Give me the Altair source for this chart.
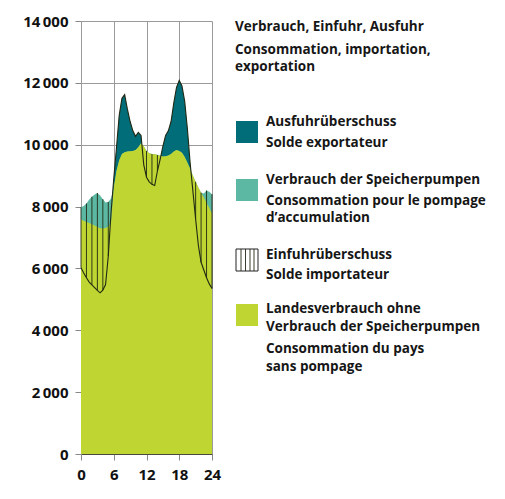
import altair as alt
import pandas as pd

# hours of the day (half-hour steps)
hours = [0, 0.5, 1, 1.5, 2, 2.5, 3, 3.5, 4, 4.5, 5, 5.5, 6, 6.5, 7, 7.5, 8, 8.5,
         9, 9.5, 10, 10.5, 11, 11.5, 12, 12.5, 13, 13.5, 14, 14.5, 15, 15.5, 16,
         16.5, 17, 17.5, 18, 18.5, 19, 19.5, 20, 20.5, 21, 21.5, 22, 22.5, 23,
         23.5, 24]

# domestic production (MW)
production = [6020, 5850, 5700, 5560, 5470, 5380, 5290, 5210, 5300, 5480, 6400,
              7800, 8900, 9900, 10950, 11500, 11620, 11150, 10750, 10450, 10270,
              10400, 10300, 9350, 8950, 8800, 8720, 8680, 9150, 9530, 9950, 10300,
              10450, 10750, 11350, 11850, 12080, 11900, 11400, 10500, 9400, 8500,
              7600, 6750, 6200, 5950, 5700, 5500, 5350]

# national consumption without storage pumps (MW)
landesverbrauch = [7580, 7540, 7500, 7470, 7430, 7390, 7340, 7300, 7290, 7310,
                   7350, 7480, 8600, 9150, 9500, 9700, 9760, 9780, 9790, 9800,
                   9830, 9920, 10050, 9950, 9800, 9720, 9700, 9690, 9670, 9640,
                   9620, 9630, 9650, 9700, 9780, 9830, 9800, 9740, 9600, 9420,
                   9220, 9000, 8800, 8620, 8450, 8290, 8120, 7950, 7780]

# consumption of storage pumps (MW)
pumpen = [400, 480, 600, 760, 890, 1000, 1100, 1060, 950, 820, 800, 780, 0, 0,
          0, 0, 0, 0, 0, 0, 0, 0, 0, 0, 0, 0, 0, 0, 0, 0, 0, 0, 0, 0, 0, 0, 0,
          0, 0, 0, 0, 0, 0, 0, 0, 130, 400, 530, 620]

y_ticks = [0, 2000, 4000, 6000, 8000, 10000, 12000, 14000]
x_ticks = [0, 6, 12, 18, 24]

title_lines = ["Verbrauch, Einfuhr, Ausfuhr", "Consommation, importation,", "exportation"]
legend_lines = [
    ["Ausfuhrüberschuss", "Solde exportateur"],
    ["Verbrauch der Speicherpumpen", "Consommation pour le pompage", "d\u2019accumulation"],
    ["Einfuhrüberschuss", "Solde importateur"],
    ["Landesverbrauch ohne", "Verbrauch der Speicherpumpen", "Consommation du pays", "sans pompage"],
]

C_GREEN = "#bfd531"
C_LTEAL = "#5db8a3"
C_DTEAL = "#006d79"
C_LINE = "#1f2914"
FONT = "Open Sans"

df = pd.DataFrame({"h": hours, "G": production, "L": landesverbrauch, "P": pumpen})
df["C"] = df["L"] + df["P"]

W, H = 131, 433

xs = alt.Scale(domain=[0, 24], nice=False, zero=False)
ys = alt.Scale(domain=[0, 14000], nice=False)

x_axis = alt.Axis(values=x_ticks, tickCount=20, title=None, labelFont=FONT,
                  labelFontWeight="bold", labelFontSize=15, labelColor="#111",
                  tickColor="#888", tickSize=6, domainColor="#4a4a3a", grid=True,
                  gridColor="#9a9a9a", gridWidth=1, labelPadding=7,
                  labelOverlap=False, labelFlush=False, labelBound=False)
y_axis = alt.Axis(values=y_ticks, tickCount=20, title=None, labelFont=FONT,
                  labelFontWeight="bold", labelFontSize=15, labelColor="#111",
                  tickColor="#888", tickSize=6, domainColor="#9a9a9a", grid=True,
                  gridColor="#9a9a9a", gridWidth=1, labelPadding=7,
                  labelOverlap=False, labelFlush=False,
                  labelExpr="replace(format(datum.value, ','), ',', '\u2009')")

base = alt.Chart(df)

prod_area = base.mark_area(color=C_DTEAL, opacity=1).encode(
    x=alt.X("h:Q", scale=xs, axis=x_axis),
    y=alt.Y("G:Q", scale=ys, axis=y_axis),
    y2=alt.datum(0),
)
cons_area = base.mark_area(color=C_LTEAL, opacity=1).encode(
    x=alt.X("h:Q", scale=xs), y=alt.Y("C:Q", scale=ys), y2=alt.datum(0))
land_area = base.mark_area(color=C_GREEN, opacity=1).encode(
    x=alt.X("h:Q", scale=xs), y=alt.Y("L:Q", scale=ys), y2=alt.datum(0))
hatch = base.transform_filter("datum.G < datum.C && datum.h % 1 == 0").mark_rule(
    color=C_LINE, strokeWidth=0.9).encode(
    x=alt.X("h:Q", scale=xs), y=alt.Y("G:Q", scale=ys), y2="C:Q")
prod_line = base.mark_line(color=C_LINE, strokeWidth=1.1).encode(
    x=alt.X("h:Q", scale=xs), y=alt.Y("G:Q", scale=ys))

one = alt.Data(values=[{}])


def txt(s, x, y):
    return alt.Chart(one).mark_text(
        text=s, align="left", baseline="middle", font=FONT, fontSize=13.5,
        fontWeight="bold", color="#161616").encode(x=alt.value(x), y=alt.value(y))


def swatch(color, x, y, stroke=None):
    kw = dict(color=color)
    if stroke:
        kw = dict(fill=color, stroke=stroke, strokeWidth=1)
    return alt.Chart(one).mark_rect(**kw).encode(
        x=alt.value(x), x2=alt.value(x + 22), y=alt.value(y), y2=alt.value(y + 22))


def vline(x, y1, y2):
    return alt.Chart(one).mark_rule(color=C_LINE, strokeWidth=0.9).encode(
        x=alt.value(x), y=alt.value(y1), y2=alt.value(y2))


TX = 154   # title x (view coords)
LX = 185   # legend text x
SX = 155   # swatch x

layers = [prod_area, cons_area, land_area, hatch, prod_line,
          txt(title_lines[0], TX, 6),
          txt(title_lines[1], TX, 29),
          txt(title_lines[2], TX, 46),
          swatch(C_DTEAL, SX, 100),
          txt(legend_lines[0][0], LX, 101),
          txt(legend_lines[0][1], LX, 122),
          swatch(C_LTEAL, SX, 158),
          txt(legend_lines[1][0], LX, 159),
          txt(legend_lines[1][1], LX, 180),
          txt(legend_lines[1][2], LX, 197),
          swatch("#ffffff", SX, 228, stroke="#222"),
          vline(SX + 5, 228, 250), vline(SX + 9.5, 228, 250),
          vline(SX + 14, 228, 250), vline(SX + 18, 228, 250),
          txt(legend_lines[2][0], LX, 234),
          txt(legend_lines[2][1], LX, 254),
          swatch(C_GREEN, SX, 283),
          txt(legend_lines[3][0], LX, 288),
          txt(legend_lines[3][1], LX, 306),
          txt(legend_lines[3][2], LX, 328),
          txt(legend_lines[3][3], LX, 346),
          ]

chart = alt.layer(*layers).properties(
    width=W, height=H,
    padding={"left": 73, "top": 13, "right": 285, "bottom": 37},
    autosize=alt.AutoSizeParams(type="none"),
).configure_view(stroke=None)

chart.save("out.html", embed_options={"renderer": "svg", "actions": False})
